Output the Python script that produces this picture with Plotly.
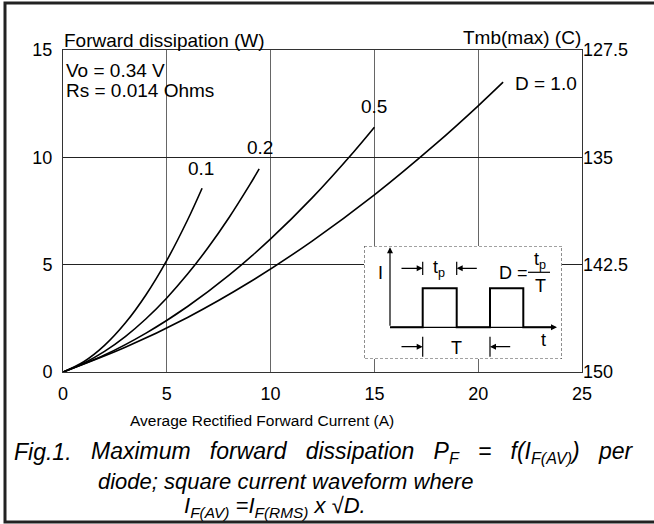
import plotly.graph_objects as go

# ---------------- data ----------------
duty_labels = ["0.1", "0.2", "0.5", "D = 1.0"]
i_d01 = [0, 1, 2, 3, 4, 5, 6, 6.7]
p_d01 = [0, 0.48, 1.24, 2.28, 3.60, 5.20, 7.08, 8.56]
i_d02 = [0, 1, 2, 3, 4, 5, 6, 7, 8, 9, 9.45]
p_d02 = [0, 0.41, 0.96, 1.65, 2.48, 3.45, 4.56, 5.81, 7.20, 8.73, 9.46]
i_d05 = [0, 2, 4, 6, 8, 10, 12, 14, 15]
p_d05 = [0, 0.79, 1.81, 3.05, 4.51, 6.20, 8.11, 10.25, 11.40]
i_d10 = [0, 3, 6, 9, 12, 15, 18, 20, 21.2]
p_d10 = [0, 1.15, 2.54, 4.19, 6.10, 8.25, 10.66, 12.40, 13.50]

x_ticks = [0, 5, 10, 15, 20, 25]
y_ticks = [0, 5, 10, 15]
tmb_tick_labels = ["150", "142.5", "135", "127.5"]

# ---------------- layout geometry (pixels) ----------------
W, H = 654, 524
L, R, T, B = 63, 582, 50, 372
PW, PH = R - L, B - T
FONT = "Liberation Sans, Arial, sans-serif"


def px_x(px):
    return (px - L) / PW


def px_y(py):
    return (B - py) / PH


fig = go.Figure()

series = [(i_d01, p_d01), (i_d02, p_d02), (i_d05, p_d05), (i_d10, p_d10)]
for (xs, ys), name in zip(series, duty_labels):
    fig.add_trace(go.Scatter(x=xs, y=ys, mode="lines", name=name,
                             line=dict(color="black", width=1.6, shape="spline"),
                             showlegend=False, hoverinfo="skip"))

# invisible trace to activate the right-hand temperature axis
fig.add_trace(go.Scatter(x=[0], y=[0], yaxis="y2", mode="markers",
                         marker=dict(opacity=0), showlegend=False, hoverinfo="skip"))

# ---------------- inset (waveform sketch) on its own axes ----------------
IX0, IX1, IY0, IY1 = 364, 562, 246, 359
wave_x = [26, 58.7, 58.7, 92.7, 92.7, 126, 126, 159.3, 159.3, 190]
wave_y = [81.3, 81.3, 42.3, 42.3, 81.3, 81.3, 42.3, 42.3, 81.3, 81.3]
fig.add_trace(go.Scatter(x=wave_x, y=wave_y, xaxis="x3", yaxis="y3", mode="lines",
                         line=dict(color="black", width=2), showlegend=False,
                         hoverinfo="skip"))
tick_x = [58.7, 58.7, None, 92.7, 92.7, None, 58.7, 58.7, None, 126, 126, None, 164, 186]
tick_y = [15.7, 29, None, 15.7, 29, None, 90.7, 110.7, None, 90.7, 110.7, None, 26.3, 26.3]
fig.add_trace(go.Scatter(x=tick_x, y=tick_y, xaxis="x3", yaxis="y3", mode="lines",
                         line=dict(color="black", width=1.2), showlegend=False,
                         hoverinfo="skip"))

annotations = []


def arrow(x0, y0, x1, y1, ref="3", head=2, size=1.0):
    annotations.append(dict(x=x1, y=y1, ax=x0, ay=y0, xref="x" + ref, yref="y" + ref,
                            axref="x" + ref, ayref="y" + ref, text="", showarrow=True,
                            arrowhead=head, arrowsize=size, arrowwidth=1.2,
                            arrowcolor="black", standoff=0, startstandoff=0))


arrow(26, 81.3, 26, 1.3)
arrow(26, 81.3, 193, 81.3)
arrow(36, 22.3, 58.7, 22.3)
arrow(114.3, 22.3, 92.7, 22.3)
arrow(36, 100.7, 58.7, 100.7)
arrow(147.7, 100.7, 126, 100.7)


def inset_text(x, y, txt, size=18):
    annotations.append(dict(x=x, y=y, xref="x3", yref="y3", text=txt, showarrow=False,
                            xanchor="center", yanchor="middle",
                            font=dict(family=FONT, size=size, color="black")))


inset_text(16, 27.3, "I")
inset_text(75, 22.3, "t<sub>p</sub>")
inset_text(149, 27.3, "D =")
inset_text(176, 14.5, "t<sub>p</sub>")
inset_text(176, 39.5, "T")
inset_text(92.7, 102, "T")
inset_text(179.3, 94, "t")


# ---------------- chart texts ----------------
def ptext(px, py, txt, size=19, xanchor="center", italic=False):
    annotations.append(dict(x=px_x(px), y=px_y(py), xref="paper", yref="paper",
                            text=("<i>" + txt + "</i>") if italic else txt,
                            showarrow=False, xanchor=xanchor, yanchor="middle",
                            font=dict(family=FONT, size=size, color="black")))


label_pos = [(201, 168), (260, 147), (374, 107), (546, 83)]
for (px, py), name in zip(label_pos, duty_labels):
    ptext(px, py, name)

ptext(64, 70, "Vo = 0.34 V", xanchor="left")
ptext(64, 91, "Rs = 0.014 Ohms", xanchor="left")
ptext(62, 40, "Forward dissipation (W)", xanchor="left")
ptext(583, 38, "Tmb(max) (C)", xanchor="right")
ptext(262, 420, "Average Rectified Forward Current (A)", size=15.5)

GAP = "   "
ptext(12, 452, "Fig.1.", size=23, xanchor="left", italic=True)
ptext(89, 452, GAP.join(["Maximum", "forward", "dissipation", "P<sub>F</sub>", "=",
                         "f(I<sub>F(AV)</sub>)", "per"]),
      size=23, xanchor="left", italic=True)
ptext(96, 481, "diode; square current waveform where", size=22, xanchor="left",
      italic=True)
ptext(275, 507, "I<sub>F(AV)</sub> =I<sub>F(RMS)</sub> x \u221aD.", size=22, italic=True)

shapes = [
    # outer figure border
    dict(type="rect", xref="paper", yref="paper", x0=px_x(5), x1=px_x(672),
         y0=px_y(522), y1=px_y(3), line=dict(color="#222", width=3), layer="above"),
    # inset box (white, dashed) drawn in the inset subplot
    dict(type="rect", xref="x3", yref="y3", x0=0, x1=IX1 - IX0, y0=0, y1=IY1 - IY0,
         fillcolor="white", line=dict(color="#444", width=1.2, dash="3px,2px"),
         layer="below"),
]

axis_font = dict(family=FONT, size=18, color="black")
fig.update_layout(
    width=W, height=H, autosize=False,
    margin=dict(l=L, r=W - R, t=T, b=H - B, pad=0),
    paper_bgcolor="white", plot_bgcolor="white",
    xaxis=dict(range=[0, 25], tickvals=x_ticks, ticktext=[str(v) for v in x_ticks],
               showgrid=True, gridcolor="#666", gridwidth=1, zeroline=False,
               showline=True, linecolor="#333", linewidth=1, mirror=True,
               ticks="", ticklabelstandoff=5, tickfont=axis_font, fixedrange=True),
    yaxis=dict(range=[0, 15], tickvals=y_ticks, ticktext=[str(v) for v in y_ticks],
               showgrid=True, gridcolor="#222", gridwidth=1, zeroline=False,
               showline=True, linecolor="#333", linewidth=1, mirror=True,
               ticks="", ticklabelstandoff=6, tickfont=axis_font, fixedrange=True),
    yaxis2=dict(range=[0, 15], overlaying="y", side="right", tickvals=y_ticks,
                ticktext=tmb_tick_labels, showgrid=False, zeroline=False,
                showline=False, ticks="", tickfont=axis_font, fixedrange=True),
    xaxis3=dict(domain=[px_x(IX0), px_x(IX1)], range=[0, IX1 - IX0], anchor="y3",
                visible=False, fixedrange=True),
    yaxis3=dict(domain=[px_y(IY1), px_y(IY0)], range=[IY1 - IY0, 0], anchor="x3",
                visible=False, fixedrange=True),
    annotations=annotations,
    shapes=shapes,
)

fig.write_html("out.html", config={"displayModeBar": False},
               post_script="document.body.style.margin='0px';")
